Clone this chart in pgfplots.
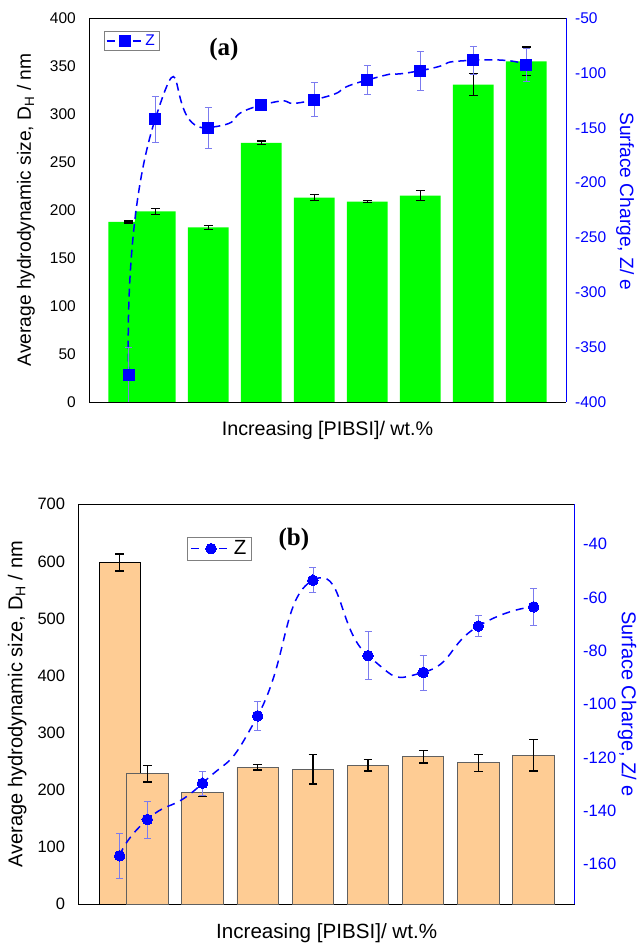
\documentclass[border=0pt]{standalone}
\usepackage{pgfplots}
\pgfplotsset{compat=1.18}
\usepackage{pgfplotstable}
\usepackage{fontspec}
\setmainfont{Liberation Sans}
\newfontfamily\serifb{Liberation Serif}
\definecolor{zblue}{HTML}{0000FF}
\definecolor{ebblue}{HTML}{7B7BEF}
\definecolor{barorange}{HTML}{FECC94}
\definecolor{bargreen}{HTML}{00FF00}
\definecolor{bargray}{HTML}{606060}

\pgfplotstableread{
x y e
0.5 187.5 1
1 198.5 3
2 182 2
3 270 2
4 212.8 3
5 208.6 1
6 215 5
7 330.5 11.5
8 354.8 15
}\barsA
\pgfplotstableread{
x y e
0.5 -375 25
1 -142 21
2 -150 19
3 -129.5 5
4 -124.5 15.5
5 -106.5 13.5
6 -98 17.5
7 -88.5 12.5
8 -93 15
}\zA
\pgfplotstableread{
x y e
0.5 598 15
}\barsBfirst
\pgfplotstableread{
x y e
1 228 14.5
2 196 8
3 239.2 4.5
4 236 26
5 242.7 10
6 257.8 11
7 247.3 14.7
8 260.7 28
}\barsB
\pgfplotstableread{
x y e
0.5 -156.9 8.6
1 -143.3 7
2 -129.7 4.4
3 -104.4 5.3
4 -53.5 4.7
5 -81.8 9
6 -88.1 6.6
7 -70.7 3.9
8 -63.5 6.8
}\zB

\pgfplotsset{
  panel/.style={scale only axis, xmin=-0.25, xmax=8.75, xtick=\empty,
    major tick length=0pt, minor tick num=0,
    /pgf/number format/assume math mode=true},
  barerr/.style={error bars/.cd, y dir=both, y explicit,
    error bar style={draw=black, line width=1.3pt, solid},
    error mark options={rotate=90, mark size=4.3pt, draw=black, line width=1.3pt, solid}},
  zerr/.style={error bars/.cd, y dir=both, y explicit,
    error bar style={draw=ebblue, line width=0.6pt, solid},
    error mark options={rotate=90, mark size=3.5pt, draw=ebblue, line width=0.6pt, solid}},
}

\begin{document}
\begin{tikzpicture}
\useasboundingbox (0,0) rectangle (641pt,946pt);

%================ panel (a) =================
\begin{axis}[panel, at={(89pt,544pt)}, anchor=south west, width=477pt, height=384pt,
  ymin=0, ymax=400, ytick={0,50,...,400},
  axis y line*=left,
  tick label style={font=\fontsize{15.5}{16}\selectfont},
  yticklabel style={anchor=east, inner sep=0pt, xshift=-13pt},
  ylabel={Average hydrodynamic size, D\textsubscript{H} / nm},
  ylabel style={at={(axis description cs:-0.132,0.5)}, anchor=center, font=\fontsize{19.2}{20}\selectfont},
  xlabel={Increasing [PIBSI]/ wt.\%},
  xlabel style={at={(axis description cs:0.5,-0.073)}, anchor=center, font=\fontsize{19.7}{20}\selectfont},
]
\addplot[ybar, bar width=0.77, bar shift=0pt, fill=bargreen, draw=none, barerr]
  table[x=x, y=y, y error=e] {\barsA};
\end{axis}

\begin{axis}[panel, at={(89pt,544pt)}, anchor=south west, width=477pt, height=384pt,
  ymin=-400, ymax=-50, ytick={-400,-350,...,-50},
  axis y line*=right, axis x line=none,
  y axis line style={draw=zblue, line width=1pt},
  tick label style={font=\fontsize{15.5}{16}\selectfont},
  yticklabel style={anchor=west, inner sep=0pt, xshift=9pt, text=zblue},
  ylabel={Surface Charge, Z/ e},
  ylabel style={at={(axis description cs:1.124,0.522)}, anchor=center, rotate=180, text=zblue, font=\fontsize{19.2}{20}\selectfont},
  legend style={at={(axis description cs:0.031,0.966)}, anchor=north west, draw=gray,
    font=\fontsize{15.5}{16}\selectfont, text=zblue, inner xsep=2pt, inner ysep=1.5pt},
  legend image code/.code={\draw[mark repeat=2, mark phase=2, #1] plot coordinates {(0pt,0pt) (18pt,0pt) (36pt,0pt)};},
]
\addplot[zblue, line width=1.5pt, dash pattern=on 8pt off 5pt, smooth, tension=1.5,
  mark=square*, mark size=5.5pt, mark options={solid, fill=zblue, draw=zblue, line width=0pt}, zerr]
  table[x=x, y=y, y error=e] {\zA};
\addlegendentry{Z}
\node[font=\serifb\bfseries\fontsize{25}{25}\selectfont] at (axis description cs:0.283,0.919) {(a)};
\end{axis}

%================ panel (b) =================
\begin{axis}[panel, at={(78.3pt,42pt)}, anchor=south west, width=496.7pt, height=399.7pt,
  ymin=0, ymax=700, ytick={0,100,...,700},
  axis y line*=left,
  tick label style={font=\fontsize{16.5}{17}\selectfont},
  yticklabel style={anchor=east, inner sep=0pt, xshift=-13pt},
  ylabel={Average hydrodynamic size, D\textsubscript{H} / nm},
  ylabel style={at={(axis description cs:-0.123,0.5)}, anchor=center, font=\fontsize{20}{21}\selectfont},
  xlabel={Increasing [PIBSI]/ wt.\%},
  xlabel style={at={(axis description cs:0.5,-0.0726)}, anchor=center, font=\fontsize{20.6}{21}\selectfont},
]
\addplot[ybar, bar width=0.75, bar shift=0pt, fill=barorange, draw=black, line width=0.9pt, barerr]
  table[x=x, y=y, y error=e] {\barsBfirst};
\addplot[ybar, bar width=0.75, bar shift=0pt, fill=barorange, draw=bargray, line width=0.9pt, barerr]
  table[x=x, y=y, y error=e] {\barsB};
\end{axis}

\begin{axis}[panel, at={(78.3pt,42pt)}, anchor=south west, width=496.7pt, height=399.7pt,
  ymin=-175, ymax=-25, ytick={-160,-140,...,-40},
  axis y line*=right, axis x line=none,
  y axis line style={draw=zblue, line width=1pt},
  tick label style={font=\fontsize{16.5}{17}\selectfont},
  yticklabel style={anchor=west, inner sep=0pt, xshift=8pt, text=zblue},
  ylabel={Surface Charge, Z/ e},
  ylabel style={at={(axis description cs:1.105,0.5)}, anchor=center, rotate=180, text=zblue, font=\fontsize{20}{21}\selectfont},
  legend style={at={(axis description cs:0.219,0.919)}, anchor=north west, draw=gray,
    font=\fontsize{20.5}{21}\selectfont, text=black, inner xsep=3pt, inner ysep=2pt},
  legend image code/.code={\draw[mark repeat=2, mark phase=2, #1] plot coordinates {(0pt,0pt) (20pt,0pt) (40pt,0pt)};},
]
\addplot[zblue, line width=1.5pt, dash pattern=on 8pt off 6pt, smooth, tension=1.0,
  mark=*, mark size=5.3pt, mark options={solid, fill=zblue, draw=zblue, line width=0pt}, zerr]
  table[x=x, y=y, y error=e] {\zB};
\addlegendentry{Z}
\node[font=\serifb\bfseries\fontsize{25}{25}\selectfont] at (axis description cs:0.434,0.911) {(b)};
\end{axis}
\end{tikzpicture}
\end{document}
